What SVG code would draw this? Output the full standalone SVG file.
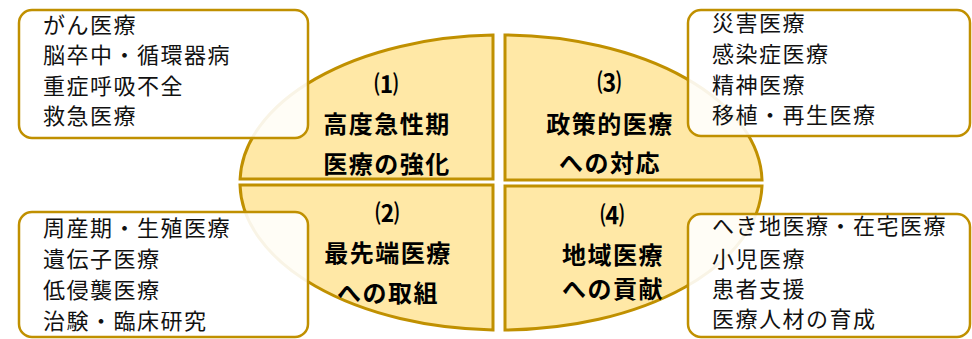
<svg xmlns="http://www.w3.org/2000/svg" width="972" height="339" viewBox="0 0 972 339">
<style>
.q{fill:#FFE8A6;stroke:#C09000;stroke-width:3;stroke-linejoin:miter}
.b{fill:#FFFFFF;fill-opacity:0.9;stroke:#C09000;stroke-width:2.5}
.t{font-family:"Noto Sans CJK JP","Noto Sans",sans-serif;font-size:22px;fill:#111;letter-spacing:1.5px}
.h{font-family:"Noto Sans CJK JP","Noto Sans",sans-serif;font-size:24px;font-weight:bold;fill:#000;text-anchor:middle;letter-spacing:1.5px}
</style>
<rect width="972" height="339" fill="#FFFFFF"/>
<g id="q1">
<path class="q" d="M493,35.1 A261,147.5 0 0 0 240.1,179 L493,179 Z"/>
<text class="h" x="387" y="93">⑴</text>
<text class="h" x="387" y="133">高度急性期</text>
<text class="h" x="387" y="173">医療の強化</text>
</g>
<g id="q3">
<path class="q" d="M505,35 A261,147.5 0 0 1 762,180 L505,180 Z"/>
<text class="h" x="610" y="91">⑶</text>
<text class="h" x="610" y="133">政策的医療</text>
<text class="h" x="610" y="172">への対応</text>
</g>
<g id="q2">
<path class="q" d="M240,185 A261,147.5 0 0 0 493,329.9 L493,185 Z"/>
<text class="h" x="388" y="222">⑵</text>
<text class="h" x="388" y="262">最先端医療</text>
<text class="h" x="388" y="302">への取組</text>
</g>
<g id="q4">
<path class="q" d="M505,186 L762,186 A261,147.5 0 0 1 505,330 Z"/>
<text class="h" x="613" y="224">⑷</text>
<text class="h" x="613" y="264">地域医療</text>
<text class="h" x="613" y="298">への貢献</text>
</g>
<g id="box1">
<rect class="b" x="19" y="10" width="289" height="128" rx="13"/>
<text class="t" x="43" y="33">がん医療</text>
<text class="t" x="43" y="63">脳卒中・循環器病</text>
<text class="t" x="43" y="94">重症呼吸不全</text>
<text class="t" x="43" y="124">救急医療</text>
</g>
<g id="box3">
<rect class="b" x="688" y="10" width="282" height="126" rx="13"/>
<text class="t" x="712" y="31">災害医療</text>
<text class="t" x="712" y="62">感染症医療</text>
<text class="t" x="712" y="93">精神医療</text>
<text class="t" x="712" y="123">移植・再生医療</text>
</g>
<g id="box2">
<rect class="b" x="19" y="212" width="289" height="125" rx="13"/>
<text class="t" x="43" y="236">周産期・生殖医療</text>
<text class="t" x="43" y="267">遺伝子医療</text>
<text class="t" x="43" y="298">低侵襲医療</text>
<text class="t" x="43" y="329">治験・臨床研究</text>
</g>
<g id="box4">
<rect class="b" x="688" y="214" width="282" height="123" rx="13"/>
<text class="t" x="712" y="234">へき地医療・在宅医療</text>
<text class="t" x="712" y="267">小児医療</text>
<text class="t" x="712" y="297">患者支援</text>
<text class="t" x="712" y="327">医療人材の育成</text>
</g>
<g id="connectors"></g>
</svg>
